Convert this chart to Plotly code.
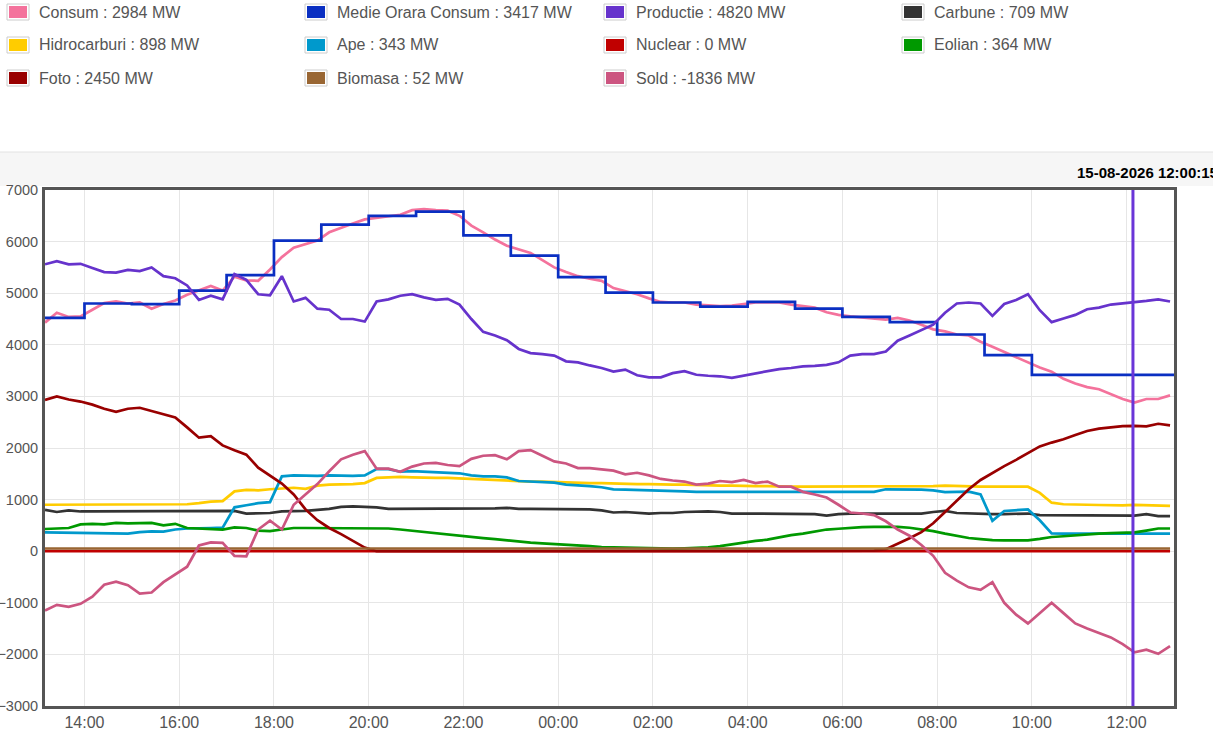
import pandas as pd
import plotly.graph_objects as go

# 15 minute samples, 14-08-2026 13:10 -> 15-08-2026 12:55
times = pd.date_range("2026-08-14 13:10", periods=96, freq="15min")

consum = [4430, 4620, 4540, 4550, 4680, 4810, 4840, 4800, 4820, 4700, 4790, 4860,
          4970, 5060, 5140, 5050, 5320, 5250, 5240, 5460, 5700, 5880, 5950, 6020,
          6180, 6270, 6350, 6430, 6460, 6480, 6520, 6610, 6630, 6610, 6600, 6500,
          6310, 6180, 6040, 5920, 5850, 5780, 5640, 5500, 5410, 5330, 5280, 5240,
          5100, 5040, 4980, 4900, 4830, 4820, 4820, 4780, 4760, 4750, 4760, 4790,
          4820, 4820, 4820, 4780, 4750, 4720, 4630, 4580, 4550, 4530, 4500, 4490,
          4520, 4470, 4390, 4300, 4260, 4200, 4180, 4060, 3960, 3860, 3760, 3660,
          3560, 3480, 3340, 3250, 3180, 3140, 3040, 2950, 2880, 2950, 2950, 3020]

productie = [5560, 5620, 5560, 5570, 5490, 5410, 5400, 5450, 5430, 5500, 5330, 5290,
             5150, 4870, 4950, 4880, 5370, 5260, 4980, 4960, 5330, 4840, 4910, 4700,
             4680, 4500, 4500, 4450, 4840, 4880, 4950, 4980, 4920, 4870, 4890, 4780,
             4500, 4250, 4180, 4090, 3920, 3840, 3820, 3790, 3680, 3660, 3600, 3550,
             3480, 3520, 3410, 3370, 3370, 3450, 3490, 3420, 3400, 3390, 3360, 3400,
             3450, 3490, 3530, 3550, 3580, 3590, 3610, 3660, 3790, 3820, 3820, 3870,
             4080, 4180, 4280, 4390, 4620, 4800, 4820, 4800, 4560, 4790, 4870, 4980,
             4670, 4440, 4510, 4580, 4690, 4720, 4780, 4800, 4830, 4850, 4880, 4840]

carbune = [800, 760, 790, 770, 770, 770, 770, 770, 770, 770, 770, 770,
           770, 770, 770, 775, 780, 730, 730, 740, 770, 770, 780, 800,
           820, 860, 870, 860, 850, 820, 820, 830, 830, 820, 830, 820,
           830, 830, 830, 840, 820, 820, 820, 820, 810, 820, 810, 790,
           750, 760, 740, 730, 740, 740, 760, 770, 770, 760, 730, 730,
           730, 730, 730, 730, 730, 720, 690, 720, 730, 730, 730, 730,
           730, 730, 730, 760, 780, 740, 730, 720, 720, 720, 720, 730,
           700, 700, 700, 700, 700, 700, 690, 700, 690, 720, 680, 680]

hidrocarburi = [900, 900, 900, 900, 900, 900, 900, 900, 900, 900, 900, 900,
                910, 930, 960, 970, 1160, 1190, 1180, 1200, 1210, 1230, 1210, 1270,
                1290, 1290, 1300, 1320, 1420, 1430, 1440, 1430, 1420, 1420, 1420, 1410,
                1400, 1390, 1380, 1360, 1360, 1350, 1350, 1340, 1330, 1330, 1320, 1320,
                1310, 1310, 1300, 1300, 1290, 1290, 1290, 1280, 1280, 1270, 1270, 1260,
                1260, 1260, 1250, 1250, 1250, 1250, 1250, 1250, 1250, 1250, 1250, 1250,
                1250, 1250, 1250, 1260, 1270, 1260, 1250, 1250, 1250, 1250, 1250, 1250,
                1130, 940, 910, 900, 900, 895, 890, 890, 898, 890, 885, 880]

ape = [365, 360, 360, 362, 350, 340, 335, 340, 370, 385, 380, 420,
       440, 450, 450, 455, 850, 890, 930, 950, 1450, 1470, 1460, 1460,
       1470, 1460, 1460, 1470, 1590, 1590, 1540, 1550, 1540, 1530, 1520, 1510,
       1470, 1450, 1450, 1430, 1360, 1350, 1350, 1330, 1290, 1280, 1260, 1240,
       1200, 1195, 1190, 1180, 1175, 1170, 1160, 1150, 1150, 1145, 1145, 1140,
       1140, 1140, 1140, 1140, 1140, 1140, 1140, 1140, 1145, 1150, 1150, 1200,
       1200, 1195, 1195, 1180, 1145, 1150, 1155, 1100, 590, 780, 790, 810,
       600, 345, 340, 340, 340, 340, 340, 340, 343, 340, 340, 340]

nuclear = [0] * 96

eolian = [430, 440, 450, 520, 530, 520, 550, 540, 540, 550, 500, 530,
          450, 440, 430, 420, 460, 450, 400, 390, 420, 450, 450, 450,
          450, 450, 450, 450, 450, 440, 420, 395, 370, 345, 320, 300,
          280, 255, 235, 210, 185, 165, 150, 140, 128, 112, 97, 80,
          75, 68, 62, 56, 50, 49, 55, 60, 75, 100, 135, 170,
          200, 223, 270, 310, 340, 380, 420, 435, 455, 465, 470, 470,
          470, 455, 420, 390, 340, 300, 256, 235, 215, 210, 208, 210,
          240, 275, 290, 310, 325, 340, 350, 360, 364, 400, 440, 440]

foto = [2930, 3000, 2940, 2900, 2840, 2760, 2700, 2760, 2780, 2720, 2650, 2590,
        2400, 2200, 2230, 2050, 1955, 1870, 1620, 1470, 1310, 1100, 810, 600,
        450, 330, 200, 70, 0, 0, 0, 0, 0, 0, 0, 0,
        0, 0, 0, 0, 0, 0, 0, 0, 0, 0, 0, 0,
        0, 0, 0, 0, 0, 0, 0, 0, 0, 0, 0, 0,
        0, 0, 0, 0, 0, 0, 0, 0, 0, 0, 10, 40,
        140, 250, 370, 540, 760, 990, 1200, 1380, 1520, 1650, 1770, 1900,
        2030, 2105, 2170, 2250, 2330, 2375, 2405, 2424, 2430, 2420, 2470, 2440]

biomasa = [52] * 96

sold = [-1150, -1040, -1080, -1020, -880, -650, -590, -660, -820, -800, -600, -450,
        -300, 110, 170, 160, -90, -100, 420, 590, 420, 900, 1100, 1300,
        1550, 1780, 1870, 1940, 1600, 1600, 1540, 1640, 1700, 1710, 1670, 1650,
        1790, 1850, 1860, 1780, 1940, 1960, 1850, 1740, 1700, 1610, 1610, 1590,
        1560, 1490, 1520, 1470, 1400, 1370, 1350, 1290, 1310, 1360, 1340, 1380,
        1320, 1350, 1250, 1250, 1150, 1100, 1040, 900, 750, 730, 700, 580,
        420, 300, 120, -90, -420, -570, -700, -750, -600, -1000, -1230, -1400,
        -1200, -1000, -1200, -1400, -1500, -1580, -1670, -1800, -1960, -1910, -1990, -1840]

# hourly average consumption (step line)
medie_times = ["2026-08-14 13:10", "2026-08-14 14:00", "2026-08-14 15:00", "2026-08-14 16:00",
               "2026-08-14 17:00", "2026-08-14 18:00", "2026-08-14 19:00", "2026-08-14 20:00",
               "2026-08-14 21:00", "2026-08-14 22:00", "2026-08-14 23:00", "2026-08-15 00:00",
               "2026-08-15 01:00", "2026-08-15 02:00", "2026-08-15 03:00", "2026-08-15 04:00",
               "2026-08-15 05:00", "2026-08-15 06:00", "2026-08-15 07:00", "2026-08-15 08:00",
               "2026-08-15 09:00", "2026-08-15 10:00", "2026-08-15 11:00", "2026-08-15 12:00",
               "2026-08-15 13:00"]
medie = [4520, 4800, 4790, 5050, 5350, 6020, 6330, 6500, 6580, 6120, 5730, 5310,
         5010, 4820, 4740, 4830, 4700, 4540, 4440, 4200, 3800, 3417, 3417, 3417, 3417]

legend_names = ["Consum", "Medie Orara Consum", "Productie", "Carbune",
                "Hidrocarburi", "Ape", "Nuclear", "Eolian",
                "Foto", "Biomasa", "Sold"]
legend_values = [2984, 3417, 4820, 709, 898, 343, 0, 364, 2450, 52, -1836]
colors = ["#f4729c", "#0a2fc2", "#6633cc", "#333333",
          "#ffcc00", "#0099cc", "#c00000", "#009900",
          "#990000", "#996633", "#cc5580"]

cursor_time = "2026-08-15 12:08"
cursor_label = "15-08-2026 12:00:15"
x_range = ["2026-08-14 13:10", "2026-08-15 13:00"]

series = {
    "Consum": consum, "Productie": productie, "Carbune": carbune,
    "Hidrocarburi": hidrocarburi, "Ape": ape, "Nuclear": nuclear,
    "Eolian": eolian, "Foto": foto, "Biomasa": biomasa, "Sold": sold,
}

W, H = 1213, 739
L, R, T, B = 45, 1174, 190, 706
FONT = "Liberation Sans, Arial, sans-serif"


def px(x):
    return (x - L) / (R - L)


def py(y):
    return (B - y) / (B - T)


fig = go.Figure()
for name, color in zip(legend_names, colors):
    if name == "Medie Orara Consum":
        fig.add_trace(go.Scatter(x=medie_times, y=medie, mode="lines", line_shape="hv",
                                 line=dict(color=color, width=2.7), name=name))
    else:
        fig.add_trace(go.Scatter(x=times, y=series[name], mode="lines",
                                 line=dict(color=color, width=2.7), name=name))

shapes = []
annotations = []

# grey header band above the plot
shapes.append(dict(type="rect", xref="paper", yref="paper", x0=px(0), x1=px(W),
                   y0=py(186), y1=py(152), fillcolor="#f6f6f6", line_width=0, layer="below"))
shapes.append(dict(type="line", xref="paper", yref="paper", x0=px(0), x1=px(W),
                   y0=py(152), y1=py(152), line=dict(color="#e2e2e2", width=1)))

# legend drawn as boxes + text, 4 columns
col_x = [7, 305, 604, 902]
row_y = [12, 45, 78]
for i, (name, val, color) in enumerate(zip(legend_names, legend_values, colors)):
    cx = col_x[i % 4]
    cy = row_y[i // 4]
    shapes.append(dict(type="rect", xref="paper", yref="paper",
                       x0=px(cx), x1=px(cx + 22), y0=py(cy + 8), y1=py(cy - 8),
                       fillcolor="white", line=dict(color="#cccccc", width=1)))
    shapes.append(dict(type="rect", xref="paper", yref="paper",
                       x0=px(cx + 2), x1=px(cx + 20), y0=py(cy + 6), y1=py(cy - 6),
                       fillcolor=color, line_width=0))
    annotations.append(dict(xref="paper", yref="paper", x=px(cx + 30), y=py(cy),
                            xanchor="left", yanchor="middle", showarrow=False,
                            text=f"{name} : {val} MW",
                            font=dict(family=FONT, size=16, color="#555555")))

# cursor line and its time stamp
shapes.append(dict(type="line", xref="x", yref="paper", x0=cursor_time, x1=cursor_time,
                   y0=0, y1=1, line=dict(color="#6a35d8", width=3)))
annotations.append(dict(xref="paper", yref="paper", x=px(1075), y=py(173),
                        xanchor="left", yanchor="middle", showarrow=False,
                        text=f"<b>{cursor_label}</b>",
                        font=dict(family=FONT, size=15, color="#000000")))

fig.update_layout(
    width=W, height=H,
    margin=dict(l=L, r=W - R, t=T, b=H - B, autoexpand=False),
    paper_bgcolor="white", plot_bgcolor="white",
    showlegend=False,
    shapes=shapes, annotations=annotations,
    font=dict(family=FONT, size=16, color="#545454"),
)
fig.update_xaxes(type="date", range=x_range, tickformat="%H:%M",
                 tick0="2026-08-14 14:00", dtick=7200000, automargin=False,
                 showgrid=True, gridcolor="#e6e6e6", gridwidth=1,
                 showline=True, mirror=True, linecolor="#555555", linewidth=3,
                 ticks="", tickfont=dict(size=16, color="#545454"))
fig.update_yaxes(range=[-3000, 7000], dtick=1000, zeroline=False, automargin=False,
                 showgrid=True, gridcolor="#e6e6e6", gridwidth=1,
                 showline=True, mirror=True, linecolor="#555555", linewidth=3,
                 ticks="", ticklabelstandoff=1, tickfont=dict(size=14.5, color="#545454"))

# page body has an 8px default margin; drop it so the figure sits at 0,0
fig.write_html("out.html", config={"displayModeBar": False},
               post_script="document.body.style.margin='0';")
